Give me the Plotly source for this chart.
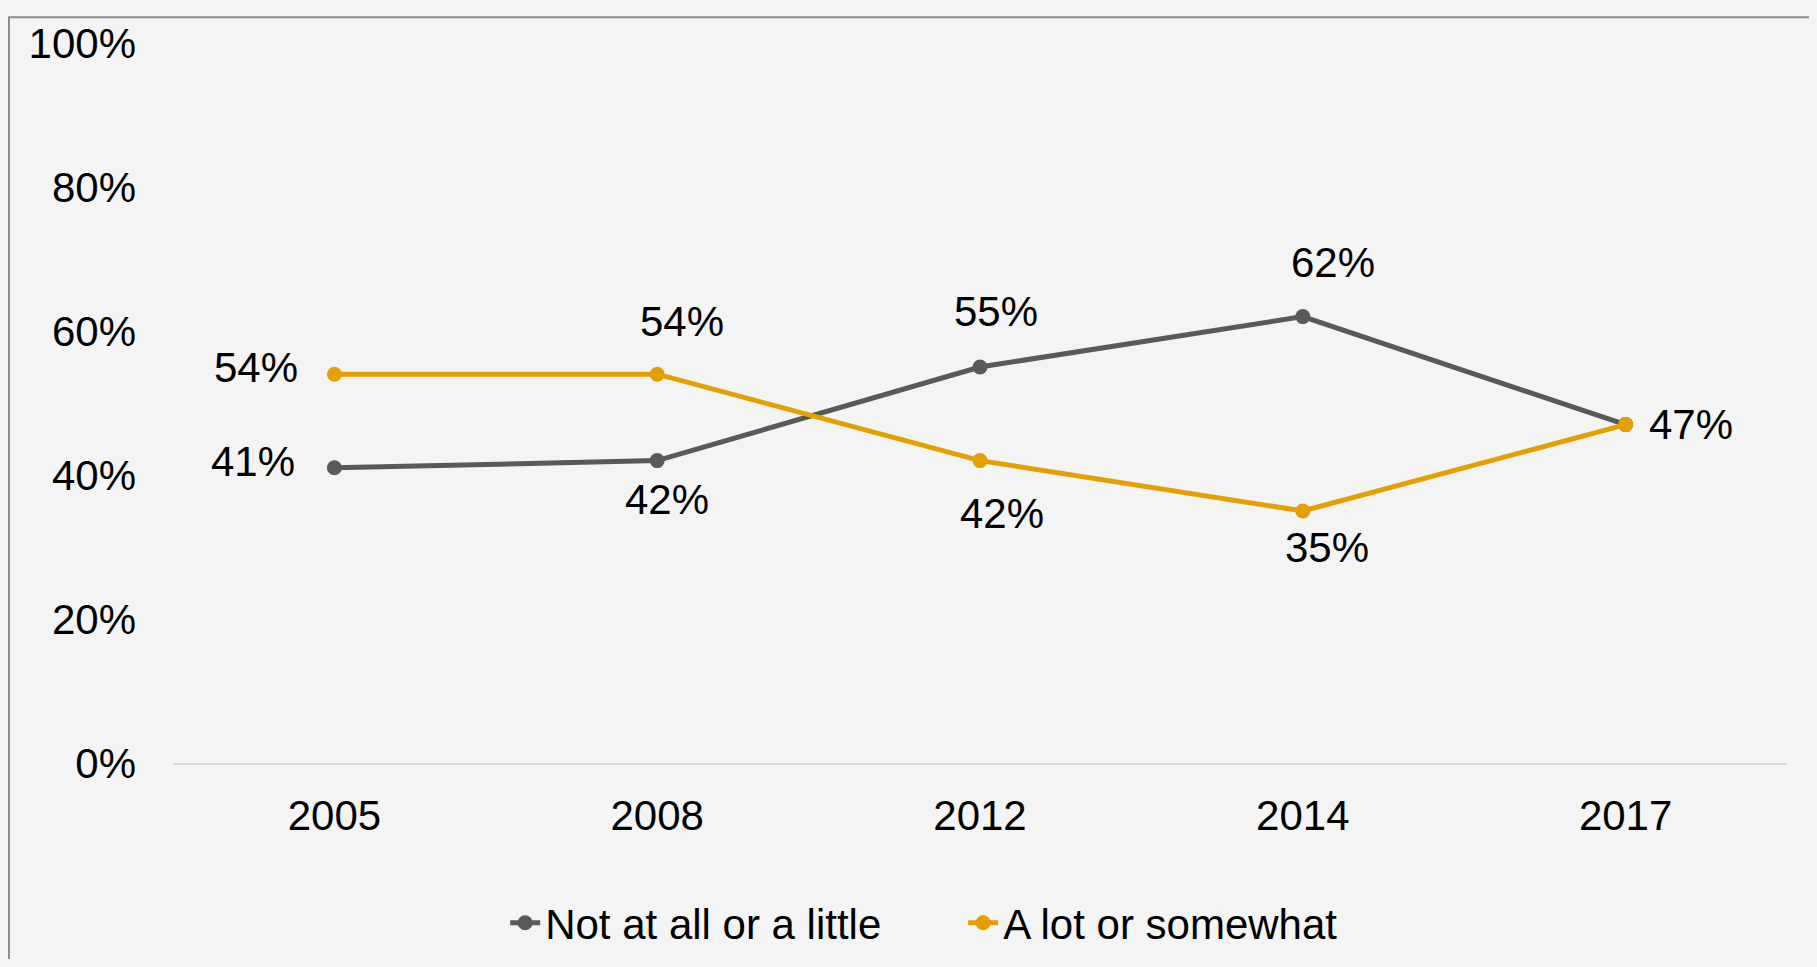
import plotly.graph_objects as go

# ---- data ----
years = ["2005", "2008", "2012", "2014", "2017"]
not_at_all = [41, 42, 55, 62, 47]
a_lot = [54, 54, 42, 35, 47]
series_names = ["Not at all or a little", "A lot or somewhat"]
y_ticks = [0, 20, 40, 60, 80, 100]

# ---- style ----
GRAY = "#595959"
ORANGE = "#E69F00"
BG = "#f4f4f4"
FONT = "Liberation Sans, Arial, sans-serif"
FS = 42

# label offsets in px (xshift, yshift); None = no label
gray_offsets = [(-81, 6), (10, -39), (16, 56), (30, 54), None]
orange_offsets = [(-78, 7), (25, 53), (22, -53), (24, -36), (65, 0)]

fig = go.Figure()
for name, vals, color in [(series_names[0], not_at_all, GRAY), (series_names[1], a_lot, ORANGE)]:
    fig.add_trace(go.Scatter(
        x=years, y=vals, name=name, mode="lines+markers",
        line=dict(color=color, width=5),
        marker=dict(color=color, size=15),
        hoverinfo="skip",
    ))

# figure geometry (page has an 8px body margin)
W, H = 1809, 951
L, R, T, B = 165, 30, 27, 196
pw, ph = W - L - R, H - T - B

def px_x(p):
    return (p - L) / pw

def px_y(p):
    return (H - B - p) / ph

fig.update_layout(
    width=W, height=H,
    margin=dict(l=L, r=R, t=T, b=B),
    paper_bgcolor=BG,
    plot_bgcolor="rgba(0,0,0,0)",
    font=dict(family=FONT, size=FS, color="#000000"),
    showlegend=True,
    legend=dict(
        orientation="h", xref="container", yref="container",
        x=0.528, xanchor="center", y=1 - 915 / H, yanchor="middle",
        font=dict(family=FONT, size=FS, color="#000000"),
        bgcolor="rgba(0,0,0,0)",
        entrywidth=413,
    ),
    xaxis=dict(
        type="category", range=[-0.5, 4.5], showgrid=False, zeroline=False,
        showline=True, linecolor="#d9d9d9", linewidth=2, ticks="",
        ticklabelstandoff=15, tickfont=dict(family=FONT, size=FS, color="#000000"),
        fixedrange=True,
    ),
    yaxis=dict(
        range=[0, 100], tickvals=y_ticks, ticktext=[f"{t}%" for t in y_ticks],
        showgrid=False, zeroline=False, showline=False, ticks="",
        ticklabelstandoff=36, tickfont=dict(family=FONT, size=FS, color="#000000"),
        fixedrange=True,
    ),
    shapes=[dict(
        type="rect", xref="paper", yref="paper",
        x0=px_x(1), x1=px_x(1807), y0=px_y(H + 20), y1=px_y(1),
        line=dict(color="#8c8c8c", width=2), fillcolor="rgba(0,0,0,0)", layer="below",
    )],
)

for vals, offs in [(not_at_all, gray_offsets), (a_lot, orange_offsets)]:
    for i, (v, o) in enumerate(zip(vals, offs)):
        if o is None:
            continue
        fig.add_annotation(
            x=i, y=v, xref="x", yref="y", text=f"{v}%", showarrow=False,
            xanchor="center", yanchor="middle",
            xshift=o[0], yshift=o[1], font=dict(family=FONT, size=FS, color="#000000"),
        )

fig.write_html(
    "out.html",
    config={"displayModeBar": False},
    post_script=f"document.body.style.background='{BG}';",
)
